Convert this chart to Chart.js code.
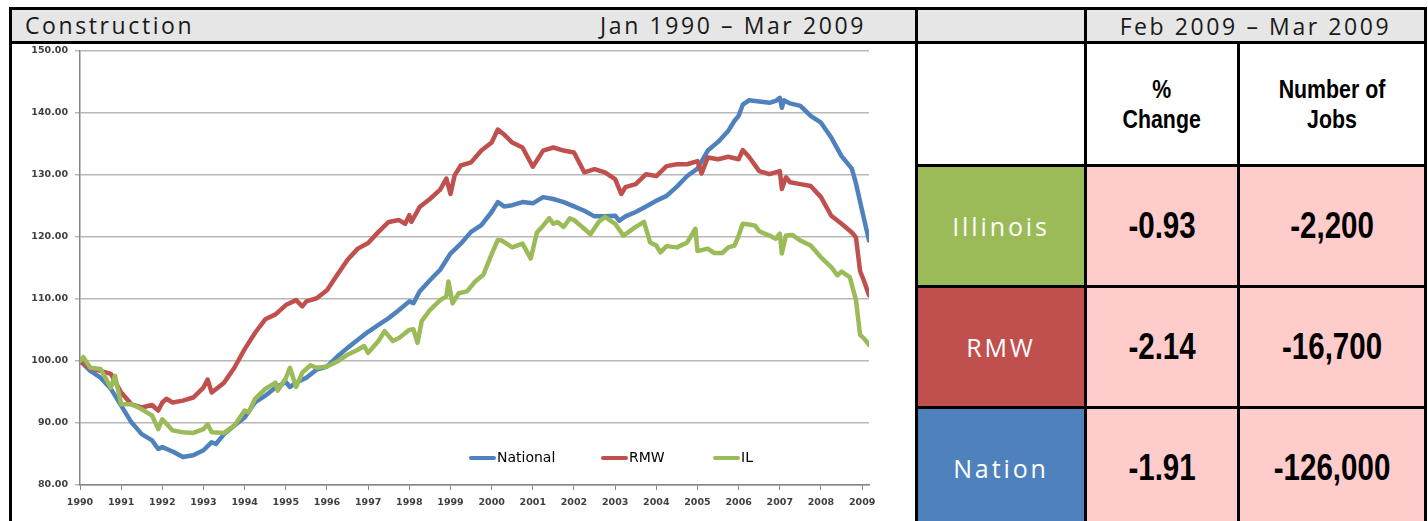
<!DOCTYPE html>
<html>
<head>
<meta charset="utf-8">
<script src="https://cdn.jsdelivr.net/npm/chart.js@4"></script>
<style>
  html, body { margin: 0; padding: 0; background: #fff; }
  body { width: 1428px; height: 521px; position: relative; overflow: hidden; font-family: "Open Sans", sans-serif; }
  .abs { position: absolute; box-sizing: border-box; }
  .line { position: absolute; background: #000; }
  .titlebar { background: #e6e6e6; }
  .ttl { position: absolute; top: 9px; font-size: 23px; letter-spacing: 2.6px; color: #1a1a1a; line-height: 32px; }
  .cell { position: absolute; box-sizing: border-box; border: 3px solid #000; display: flex; align-items: center; justify-content: center; text-align: center; }
  .hdr { background: #e6e6e6; font-size: 23px; letter-spacing: 2.6px; color: #1a1a1a; }
  .narrow { display: inline-block; transform: scaleX(0.82); font-family: "Liberation Sans", Arial, sans-serif; font-weight: bold; white-space: nowrap; }
  .colh { background: #fff; font-size: 26px; line-height: 30px; color: #000; }
  .reg { color: #fff; font-size: 25px; letter-spacing: 2.9px; }
  .val { background: #ffcccc; font-size: 36px; color: #000; }
  #chartWrap { position: absolute; left: 12px; top: 38px; width: 903px; height: 483px; }
  #legend { position: absolute; left: 0; top: 0; font-family: "DejaVu Sans", sans-serif; font-size: 14px; color: #000; }
  .lgItem { position: absolute; top: 448px; height: 18px; line-height: 18px; white-space: nowrap; }
  .lgLine { display: inline-block; width: 27px; height: 4px; vertical-align: middle; margin-right: 1px; border-radius: 2px; }
</style>
</head>
<body>

<!-- marco izquierdo -->
<div class="abs titlebar" style="left:12px; top:10px; width:903px; height:31px;"></div>
<div class="line" style="left:9px; top:7px; width:908px; height:3px;"></div>
<div class="line" style="left:9px; top:7px; width:3px; height:520px;"></div>
<div class="line" style="left:9px; top:41px; width:908px; height:3px;"></div>
<div class="ttl" style="left:25px;">Construction</div>
<div class="ttl" style="left:600px;">Jan 1990 – Mar 2009</div>

<div id="chartWrap"><canvas id="chartConst"></canvas></div>
<div id="legend"></div>

<div id="tabla"></div>

<script>
// ============ DATOS ============
const SERIES_LABELS = ['National', 'RMW', 'IL'];
const SERIES_COLORES = ['#4f81bd', '#c0504d', '#9bbb59'];

// indice (Ene 1990 = 100), fechas en anios decimales
const natT = [1990, 1990.25, 1990.5, 1990.75, 1991, 1991.25, 1991.5, 1991.75, 1991.9, 1992, 1992.25, 1992.5, 1992.75,
  1993, 1993.2, 1993.3, 1993.5, 1993.75, 1994, 1994.25, 1994.5, 1994.75, 1995, 1995.1, 1995.25, 1995.5, 1995.75,
  1996, 1996.25, 1996.5, 1996.75, 1997, 1997.25, 1997.5, 1997.75, 1998, 1998.1, 1998.25, 1998.5, 1998.75,
  1999, 1999.25, 1999.5, 1999.75, 2000, 2000.15, 2000.3, 2000.5, 2000.75, 2001, 2001.25, 2001.5, 2001.75,
  2002, 2002.25, 2002.5, 2002.75, 2003, 2003.1, 2003.25, 2003.5, 2003.75, 2004, 2004.25, 2004.5, 2004.75,
  2005, 2005.25, 2005.5, 2005.75, 2005.9, 2006, 2006.1, 2006.25, 2006.5, 2006.75, 2006.9, 2007, 2007.05, 2007.1,
  2007.25, 2007.5, 2007.75, 2008, 2008.25, 2008.5, 2008.75, 2008.85, 2009, 2009.1667];
const natV = [100, 98.4, 97.3, 95.5, 92.8, 90.1, 88.2, 87.2, 85.8, 86.1, 85.4, 84.5, 84.8,
  85.6, 86.9, 86.6, 88.2, 89.6, 90.9, 93.3, 94.4, 95.7, 96.6, 95.8, 96.5, 97.3, 98.6,
  99.1, 100.7, 102.1, 103.4, 104.7, 105.8, 106.9, 108.2, 109.6, 109.3, 111.2, 113.0, 114.7,
  117.3, 118.9, 120.8, 121.9, 124.0, 125.6, 124.9, 125.1, 125.6, 125.4, 126.4, 126.1, 125.6,
  124.9, 124.2, 123.3, 123.3, 123.4, 122.6, 123.3, 124.0, 124.9, 125.8, 126.6, 128.1, 129.8,
  131.0, 133.9, 135.3, 137.1, 138.7, 139.5, 141.3, 142.0, 141.8, 141.6, 141.9, 142.4, 140.8, 142.0,
  141.5, 141.1, 139.5, 138.4, 136.0, 133.0, 131.0, 128.6, 124.2, 119.4];

const rmwT = [1990, 1990.25, 1990.5, 1990.75, 1991, 1991.25, 1991.5, 1991.75, 1991.9, 1992, 1992.1, 1992.25, 1992.5, 1992.75,
  1993, 1993.1, 1993.2, 1993.5, 1993.75, 1994, 1994.25, 1994.5, 1994.75, 1995, 1995.25, 1995.4, 1995.5, 1995.75,
  1996, 1996.25, 1996.5, 1996.75, 1997, 1997.25, 1997.5, 1997.75, 1997.9, 1998, 1998.05, 1998.25, 1998.5, 1998.75, 1998.9,
  1999, 1999.1, 1999.25, 1999.5, 1999.75, 2000, 2000.15, 2000.3, 2000.5, 2000.75, 2001, 2001.25, 2001.5, 2001.75,
  2002, 2002.25, 2002.5, 2002.75, 2003, 2003.15, 2003.25, 2003.5, 2003.75, 2004, 2004.25, 2004.5, 2004.75,
  2005, 2005.1, 2005.25, 2005.5, 2005.75, 2006, 2006.1, 2006.25, 2006.5, 2006.75, 2007, 2007.05, 2007.15,
  2007.25, 2007.5, 2007.75, 2008, 2008.25, 2008.5, 2008.75, 2008.85, 2008.95, 2009.05, 2009.1667];
const rmwV = [100, 98.8, 98.4, 97.9, 94.9, 93.0, 92.5, 92.9, 92.0, 93.3, 93.9, 93.3, 93.6, 94.1,
  95.7, 97.0, 94.9, 96.5, 98.9, 101.9, 104.5, 106.7, 107.5, 109.0, 109.8, 108.8, 109.6, 110.1,
  111.4, 113.9, 116.3, 118.1, 119.0, 120.8, 122.4, 122.7, 122.1, 123.5, 122.4, 124.8, 126.1, 127.6, 129.4,
  126.9, 129.9, 131.5, 132.0, 133.9, 135.2, 137.3, 136.5, 135.2, 134.4, 131.3, 133.9, 134.4, 133.9,
  133.6, 130.4, 130.9, 130.4, 129.3, 126.9, 128.0, 128.5, 130.1, 129.8, 131.4, 131.7, 131.7,
  132.2, 130.2, 132.8, 132.5, 132.9, 132.5, 134.0, 132.9, 130.6, 130.1, 130.6, 127.7, 129.6,
  128.8, 128.5, 128.2, 126.4, 123.4, 122.1, 120.7, 119.9, 114.5, 112.8, 110.6];

const ilT = [1990, 1990.08, 1990.25, 1990.5, 1990.75, 1990.85, 1991, 1991.25, 1991.5, 1991.75, 1991.9, 1992, 1992.25, 1992.5, 1992.75,
  1993, 1993.1, 1993.2, 1993.5, 1993.75, 1994, 1994.1, 1994.25, 1994.5, 1994.75, 1994.8, 1995, 1995.1, 1995.25, 1995.4, 1995.6, 1995.75,
  1996, 1996.25, 1996.5, 1996.75, 1996.9, 1997, 1997.25, 1997.4, 1997.6, 1997.75, 1998, 1998.1, 1998.2, 1998.3, 1998.5, 1998.75, 1998.9, 1998.95,
  1999.05, 1999.2, 1999.4, 1999.6, 1999.8, 2000, 2000.15, 2000.25, 2000.5, 2000.75, 2000.95, 2001.1, 2001.25, 2001.4, 2001.5, 2001.6, 2001.75, 2001.9,
  2002, 2002.25, 2002.4, 2002.6, 2002.75, 2003, 2003.2, 2003.5, 2003.7, 2003.85, 2004, 2004.1, 2004.25, 2004.5, 2004.75, 2004.95,
  2005, 2005.25, 2005.4, 2005.6, 2005.75, 2005.9, 2006, 2006.1, 2006.25, 2006.4, 2006.5, 2006.75, 2006.9, 2007, 2007.05, 2007.15, 2007.3,
  2007.5, 2007.75, 2008, 2008.25, 2008.4, 2008.5, 2008.7, 2008.85, 2008.95, 2009.05, 2009.1667];
const ilV = [100, 100.6, 98.9, 98.7, 95.7, 97.6, 93.0, 93.0, 92.2, 91.2, 89.0, 90.6, 88.8, 88.5, 88.4,
  89.0, 89.8, 88.5, 88.4, 89.6, 92.0, 91.7, 93.9, 95.5, 96.5, 95.2, 97.2, 98.9, 95.8, 98.1, 99.3, 98.9,
  99.1, 99.9, 101.0, 101.8, 102.4, 101.3, 103.2, 104.8, 103.2, 103.7, 105.0, 105.1, 102.9, 106.4, 108.2, 109.8, 110.4, 112.8,
  109.3, 110.9, 111.2, 112.8, 113.9, 117.2, 119.5, 119.4, 118.3, 118.9, 116.5, 120.7, 121.8, 123.0, 122.1, 122.4, 121.6, 123.0,
  122.7, 121.3, 120.4, 122.4, 123.2, 122.1, 120.2, 121.6, 122.4, 119.1, 118.6, 117.5, 118.5, 118.3, 119.1, 121.3,
  117.7, 118.1, 117.4, 117.4, 118.3, 118.6, 120.2, 122.1, 122.0, 121.8, 120.9, 120.2, 119.7, 120.5, 117.3, 120.2, 120.3,
  119.4, 118.6, 116.7, 115.1, 113.8, 114.4, 113.5, 109.8, 104.2, 103.6, 102.6];

const Y_MIN = 80, Y_MAX = 150, Y_PASO = 10;
const X_MIN = 1990, X_MAX = 2009.1667;

// tabla derecha
const PERIODO = 'Feb 2009 – Mar 2009';
const REGIONES = ['Illinois', 'RMW', 'Nation'];
const REGION_COLORES = ['#9bbb59', '#c0504d', '#4f81bd'];
const PCT_CAMBIO = ['-0.93', '-2.14', '-1.91'];
const NUM_EMPLEOS = ['-2,200', '-16,700', '-126,000'];

// ============ TABLA ============
function renderTabla() {
    const t = document.getElementById('tabla');
    const xs = [915, 1084, 1237, 1424];   // lineas verticales
    const ys = [7, 41, 164, 285, 406, 527]; // lineas horizontales
    const cell = (c0, c1, r0, r1, cls, html, bg) => {
        const d = document.createElement('div');
        d.className = 'cell ' + cls;
        d.style.left = xs[c0] + 'px';
        d.style.width = (xs[c1] - xs[c0] + 3) + 'px';
        d.style.top = ys[r0] + 'px';
        d.style.height = (ys[r1] - ys[r0] + 3) + 'px';
        if (bg) d.style.background = bg;
        d.innerHTML = html;
        t.appendChild(d);
    };
    const narrow = s => '<span class="narrow">' + s + '</span>';
    cell(0, 1, 0, 1, 'hdr', '');
    cell(1, 3, 0, 1, 'hdr', PERIODO);
    cell(0, 1, 1, 2, 'colh', '');
    cell(1, 2, 1, 2, 'colh', narrow('%<br>Change'));
    cell(2, 3, 1, 2, 'colh', narrow('Number of<br>Jobs'));
    REGIONES.forEach((r, i) => {
        cell(0, 1, i + 2, i + 3, 'reg', r, REGION_COLORES[i]);
        cell(1, 2, i + 2, i + 3, 'val', narrow(PCT_CAMBIO[i]));
        cell(2, 3, i + 2, i + 3, 'val', narrow(NUM_EMPLEOS[i]));
    });
}

// ============ GRAFICO ============
function renderLegend() {
    const lg = document.getElementById('legend');
    const posX = [469, 601, 713];
    SERIES_LABELS.forEach((lab, i) => {
        const it = document.createElement('div');
        it.className = 'lgItem';
        it.style.left = posX[i] + 'px';
        it.innerHTML = '<span class="lgLine" style="background:' + SERIES_COLORES[i] + '"></span>' + lab;
        lg.appendChild(it);
    });
}

function renderChart() {
    const puntos = (ts, vs) => ts.map((t, i) => ({ x: t, y: vs[i] }));
    const series = [puntos(natT, natV), puntos(rmwT, rmwV), puntos(ilT, ilV)];
    const tickFont = { family: 'DejaVu Sans', size: 9.5, weight: 'bold' };

    new Chart(document.getElementById('chartConst'), {
        type: 'line',
        data: {
            datasets: series.map((d, i) => ({
                label: SERIES_LABELS[i],
                data: d,
                borderColor: SERIES_COLORES[i],
                backgroundColor: SERIES_COLORES[i],
                borderWidth: 4.5,
                pointRadius: 0,
                tension: 0,
                borderJoinStyle: 'round',
                borderCapStyle: 'round',
                order: 2 - i
            }))
        },
        options: {
            responsive: true,
            maintainAspectRatio: false,
            animation: false,
            layout: { padding: { top: 0, right: 46, left: 0, bottom: 0 } },
            plugins: { legend: { display: false }, tooltip: { enabled: false } },
            scales: {
                x: {
                    type: 'linear',
                    min: X_MIN,
                    max: X_MAX,
                    afterFit: s => { s.height = 36; },
                    grid: { drawOnChartArea: false, tickLength: 5, color: '#868686', lineWidth: 1 },
                    border: { color: '#868686', width: 1.5 },
                    ticks: {
                        stepSize: 1,
                        includeBounds: false,
                        autoSkip: false,
                        maxRotation: 0,
                        padding: 7,
                        color: '#404040',
                        font: tickFont,
                        callback: v => String(v)
                    }
                },
                y: {
                    min: Y_MIN,
                    max: Y_MAX,
                    afterFit: s => { s.width = 68; },
                    grid: { color: '#b8b8b8', lineWidth: 1.5, tickLength: 5 },
                    border: { color: '#868686', width: 1.5 },
                    ticks: {
                        stepSize: Y_PASO,
                        padding: 7,
                        color: '#404040',
                        font: tickFont,
                        callback: v => v.toFixed(2)
                    }
                }
            }
        }
    });
}

renderTabla();
renderLegend();
renderChart();
</script>
</body>
</html>
